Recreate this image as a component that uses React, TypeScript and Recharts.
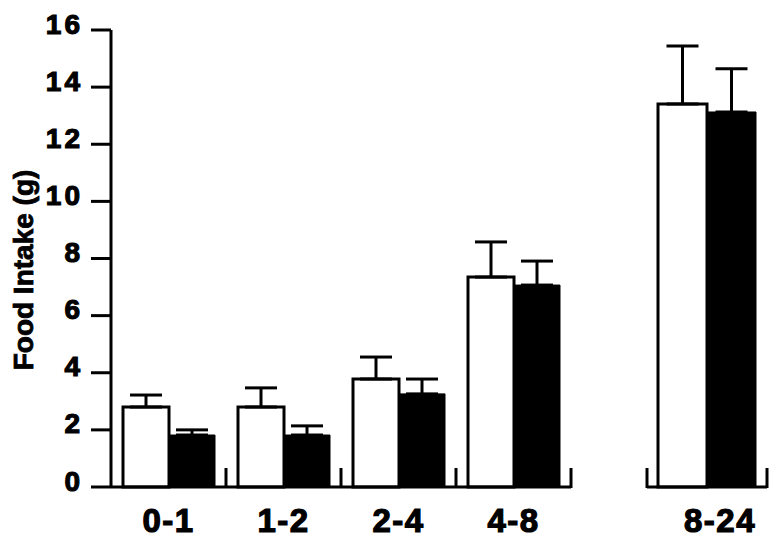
import React from 'react';
import { BarChart, Bar, XAxis, YAxis, ErrorBar } from 'recharts';

const earlyGroups = ['0-1', '1-2', '2-4', '4-8'];
const lateGroups = ['8-24'];
const controlMeans = [2.8, 2.8, 3.78, 7.35, 13.41];
const controlErrors = [0.42, 0.67, 0.77, 1.23, 2.03];
const treatedMeans = [1.82, 1.82, 3.26, 7.07, 13.13];
const treatedErrors = [0.18, 0.32, 0.52, 0.84, 1.51];
const yTicks = [0, 2, 4, 6, 8, 10, 12, 14, 16];

const FONT = '"Liberation Sans", Arial, Helvetica, sans-serif';

const buildRows = (names: string[], start: number) =>
  names.map((name, i) => ({
    name,
    control: controlMeans[start + i],
    controlErr: [0, controlErrors[start + i]],
    treated: treatedMeans[start + i],
    treatedErr: [0, treatedErrors[start + i]],
  }));

const earlyRows = buildRows(earlyGroups, 0);
const lateRows = buildRows(lateGroups, earlyGroups.length);

// x tick: label under the group plus a short upward mark at the group edge(s)
const GroupTick = (props: any) => {
  const { x, y, payload, width, visibleTicksCount, bothEdges, labelShift = 0 } = props;
  const half = width / visibleTicksCount / 2;
  return (
    <g>
      <line x1={x + half} x2={x + half} y1={y + 1} y2={y - 19} stroke="#000" strokeWidth={3} />
      {bothEdges && (
        <line x1={x - half} x2={x - half} y1={y + 1} y2={y - 19} stroke="#000" strokeWidth={3} />
      )}
      <text
        x={x + labelShift}
        y={y + 45}
        textAnchor="middle"
        fontFamily={FONT}
        fontWeight="bold"
        fontSize={33}
        letterSpacing={1.5}
        fill="#000"
        stroke="#000"
        strokeWidth={1.2}
      >
        {payload.value}
      </text>
    </g>
  );
};

const ValueTick = (props: any) => {
  const { x, y, payload } = props;
  return (
    <text
      x={x}
      y={y - 6}
      textAnchor="end"
      dominantBaseline="central"
      fontFamily={FONT}
      fontWeight="bold"
      fontSize={28}
      letterSpacing={3}
      fill="#000"
      stroke="#000"
      strokeWidth={1.1}
    >
      {payload.value}
    </text>
  );
};

const AxisTitle = () => (
  <text
    x={23}
    y={270}
    transform="rotate(-90 23 270)"
    textAnchor="middle"
    dominantBaseline="central"
    fontFamily={FONT}
    fontWeight="bold"
    fontSize={28}
    fill="#000"
    stroke="#000"
    strokeWidth={0.8}
  >
    Food Intake (g)
  </text>
);

const bars = () => [
  <Bar key="c" dataKey="control" fill="#fff" stroke="#000" strokeWidth={3} isAnimationActive={false}>
    <ErrorBar dataKey="controlErr" width={16} stroke="#000" strokeWidth={3} />
  </Bar>,
  <Bar key="t" dataKey="treated" fill="#000" stroke="#000" strokeWidth={1} isAnimationActive={false}>
    <ErrorBar dataKey="treatedErr" width={16} stroke="#000" strokeWidth={3} />
  </Bar>,
];

export default function App() {
  return (
    <div style={{ position: 'absolute', left: 0, top: 0, width: 776, height: 541, background: '#fff' }}>
      <div style={{ position: 'absolute', left: 0, top: 0 }}>
        <BarChart
          width={600}
          height={541}
          data={earlyRows}
          margin={{ top: 30, right: 29, bottom: 0, left: 0 }}
          barCategoryGap={12}
          barGap={0}
        >
          <XAxis
            dataKey="name"
            height={54}
            interval={0}
            axisLine={{ stroke: '#000', strokeWidth: 3 }}
            tickLine={false}
            tickSize={0}
            tickMargin={0}
            tick={<GroupTick />}
          />
          <YAxis
            width={111}
            domain={[0, 16]}
            ticks={yTicks}
            interval={0}
            axisLine={{ stroke: '#000', strokeWidth: 3 }}
            tickLine={{ stroke: '#000', strokeWidth: 3 }}
            tickSize={20}
            tickMargin={8}
            tick={<ValueTick />}
            label={{ content: () => <AxisTitle /> }}
          />
          {bars()}
        </BarChart>
      </div>
      <div style={{ position: 'absolute', left: 600, top: 0 }}>
        <BarChart
          width={176}
          height={541}
          data={lateRows}
          margin={{ top: 30, right: 9, bottom: 0, left: 47 }}
          barCategoryGap={11}
          barGap={0}
        >
          <XAxis
            dataKey="name"
            height={54}
            interval={0}
            axisLine={{ stroke: '#000', strokeWidth: 3 }}
            tickLine={false}
            tickSize={0}
            tickMargin={0}
            tick={<GroupTick bothEdges labelShift={13} />}
          />
          <YAxis hide domain={[0, 16]} ticks={yTicks} />
          {bars()}
        </BarChart>
      </div>
    </div>
  );
}
